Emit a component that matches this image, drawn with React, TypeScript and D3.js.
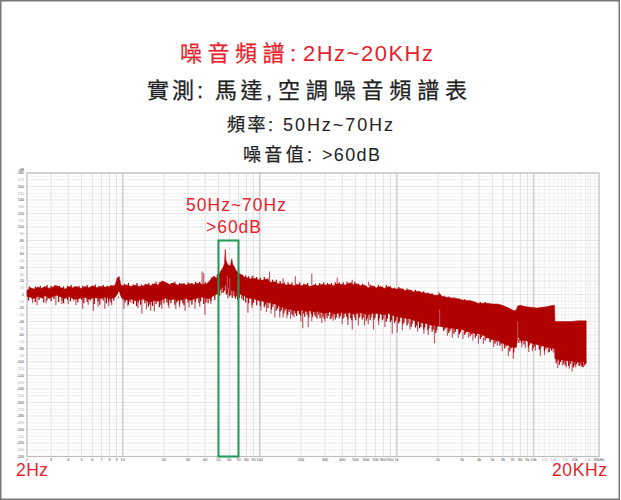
import React from "react";
import * as d3 from "d3";

const width = 621;
const height = 500;

// spectrum body
const freqHz = [
  2, 2.12, 2.25, 2.4, 2.55, 2.7, 2.9, 3.1, 3.3, 3.55, 3.8, 4.05, 4.3, 4.6, 4.95, 5.3, 5.65, 6.05, 6.5, 6.95,
  7.45, 8, 8.5, 8.8, 9.1, 9.4, 9.7, 10, 10.7, 11.5, 12.3, 13.2, 14.2, 15, 16, 17, 18, 19.3, 20.5, 22,
  23.5, 25, 27, 29, 31, 33, 35.5, 38, 41, 43, 46, 48, 50, 52, 54, 55.3, 56, 56.8, 58, 59.5, 61, 62.5,
  63.5, 65, 67, 70, 73, 77, 81, 86, 92, 98, 105, 112, 120, 128, 137, 146, 156, 166, 178, 190, 203,
  217, 232, 248, 265, 283, 303, 323, 345, 368, 395, 420, 450, 480, 510, 545, 580, 620, 660, 710, 760,
  810, 870, 930, 1000, 1070, 1150, 1230, 1320, 1420, 1520, 1630, 1750, 1880, 1980, 2060, 2150, 2300, 2500, 2750, 3000,
  3280, 3600, 3900, 4250, 4600, 5000, 5450, 5900, 6400, 7000, 7300, 7500, 7650, 8000, 8300, 8800, 9500, 10500, 11500, 12500,
  13800, 14200, 14300, 15000, 16000, 17500, 19000, 21000, 23000, 24200,
];
const upperDb = [
  6, 10, 8, 11, 9, 12, 9, 11, 13, 10, 8, 12, 10, 12, 9, 12, 10, 13, 10, 12,
  11, 12, 13, 14, 24, 27, 14, 13, 14, 12, 14, 12, 13, 15, 13, 16, 14, 20, 18, 15,
  17, 14, 16, 14, 16, 15, 17, 15, 16, 20, 27, 24, 28, 35, 40, 46, 67, 50, 46, 43, 42, 53,
  45, 42, 36, 32, 30, 26, 25, 23, 24, 22, 21, 23, 18, 19, 16, 16, 14, 15, 13, 15, 13,
  15, 12, 14, 13, 15, 14, 15, 13, 16, 15, 14, 17, 15, 16, 13, 14, 10, 13, 10, 12,
  9, 12, 9, 8, 9, 6, 7, 4, 5, 3, 2, 1, -1, -1, 1, -3, -4, -5, -6, -8,
  -9, -10, -13, -13, -13, -14, -14, -16, -19, -23, -24, -22, -17, -16, -17, -18, -19, -20, -19, -18,
  -16, -16, -40, -40, -40, -40, -40, -39, -39, -39,
];
const lowerDb = [
  -3, -4, -6, -3, -5, -2, -6, -3, -1, -4, -6, -3, -6, -7, -5, -4, -7, -5, -5, -6,
  -4, -6, -5, -4, 0, 6, -3, -7, -8, -7, -9, -8, -7, -10, -11, -9, -10, -8, -5, -8,
  -7, -9, -8, -6, -9, -7, -5, -4, -6, -6, -2, 0, 2, 8, 12, 14, 14, 12, 10, 8, 7, 6,
  6, 5, 3, 1, 0, -2, -5, -6, -7, -9, -10, -11, -13, -14, -17, -19, -21, -22, -24, -24, -23,
  -25, -24, -26, -25, -27, -28, -26, -29, -28, -27, -28, -27, -29, -28, -27, -29, -30, -28, -28, -29,
  -30, -28, -31, -33, -34, -35, -36, -38, -40, -42, -43, -45, -46, -47, -47, -48, -49, -50, -51, -52,
  -55, -57, -58, -60, -64, -67, -68, -72, -75, -78, -79, -78, -62, -68, -68, -68, -72, -74, -76, -78,
  -80, -80, -95, -96, -97, -98, -99, -100, -100, -101,
];

// jagged edges of the trace, [Hz, dB]
const fringeBelow = [
  [2.05, -9], [2.18, -7], [2.3, -11], [2.45, -8], [2.6, -6], [2.65, -12], [2.8, -9], [3, -10], [3.15, -7], [3.4, -11],
  [3.6, -9], [3.7, -13], [3.95, -8], [4.15, -10], [4.4, -9], [4.7, -12], [5, -8], [5.2, -13], [5.5, -11], [5.8, -9],
  [6.2, -14], [6.6, -10], [6.8, -15], [7.2, -9], [7.6, -13], [7.9, -10], [8.2, -12], [8.6, -9],
  [10.4, -12], [11, -15], [11.3, -11], [12, -14], [12.6, -17], [13, -12], [13.5, -15], [14.5, -13], [15.4, -18], [15.8, -15],
  [16.5, -17], [17.5, -14], [18.5, -19], [19, -15], [20, -13], [21, -12], [21.5, -16], [22.5, -13], [24, -15], [24.8, -12],
  [26, -15], [27.5, -13], [28, -16], [30, -12], [32, -15], [34, -11], [36, -13], [37, -10], [39, -14], [40.5, -12],
  [42, -13], [44, -10], [47, -8], [51, -2], [53, 2], [54.5, 3], [55.5, 6], [57, 0], [58, 2], [60, -3],
  [61.5, -1], [63, -5], [65, -2], [66.5, -6], [68, -3], [69, -8], [71, -5], [74, -6],
  [76, -9], [79, -12], [83, -13], [88, -15], [90, -12], [95, -16], [101, -17], [108, -19], [110, -15], [115, -20],
  [122, -22], [125, -18], [132, -24], [135, -21], [141, -25], [144, -23], [150, -28], [153, -24], [160, -30], [164, -26],
  [172, -29], [175, -31], [183, -28], [186, -32], [195, -29], [199, -31], [208, -28], [213, -33], [222, -30], [228, -34],
  [238, -29], [243, -33], [253, -31], [258, -34], [270, -30], [276, -35], [290, -33], [296, -36],
  [310, -35], [316, -32], [332, -36], [338, -33], [356, -37], [362, -34], [380, -35], [388, -32], [405, -36], [412, -34],
  [432, -33], [440, -37], [462, -35], [470, -38], [495, -34], [503, -38], [530, -35], [538, -33], [560, -37], [570, -34],
  [600, -39], [610, -35], [640, -38], [650, -34], [685, -37], [695, -34], [735, -39], [745, -35], [785, -38], [795, -36],
  [840, -40], [855, -36], [900, -41], [915, -38], [965, -42], [985, -39],
  [1035, -43], [1050, -40], [1110, -44], [1130, -42], [1190, -46], [1210, -43], [1275, -48], [1295, -44], [1370, -49], [1395, -46],
  [1470, -50], [1500, -48], [1575, -52], [1600, -49], [1690, -53], [1720, -50], [1815, -55], [1850, -52], [1930, -57], [1960, -53],
  [2200, -54], [2250, -52], [2400, -57], [2450, -54], [2620, -58], [2680, -55], [2870, -59], [2930, -56],
  [3140, -60], [3200, -57], [3440, -62], [3520, -59], [3750, -64], [3820, -61], [4080, -66], [4170, -63], [4420, -68], [4520, -65],
  [4800, -70], [4900, -67], [5220, -73], [5330, -70], [5670, -76], [5800, -73], [6150, -80], [6300, -77], [6700, -84], [6850, -80],
  [7150, -86], [7800, -72], [8150, -72], [8500, -74], [9150, -78], [9300, -75], [9900, -80], [10200, -77], [11000, -82], [11300, -79],
  [12000, -84], [12300, -81], [13000, -85], [13500, -83],
  [14600, -102], [14800, -99], [15400, -104], [15700, -100], [16600, -103], [17000, -105], [18000, -106], [18500, -103], [19500, -108], [20000, -105],
  [20500, -103], [21700, -106], [22200, -104], [22700, -107], [23600, -105], [24000, -103],
];
const fringeAbove = [
  [2.08, 12], [2.3, 12], [2.5, 13], [2.8, 14], [3, 13], [3.2, 14], [3.45, 13], [3.7, 12], [3.95, 13], [4.2, 14],
  [4.45, 12], [4.8, 13], [5.1, 13], [5.5, 14], [5.9, 12], [6.3, 15], [6.7, 13], [7.2, 14], [7.7, 13], [8.2, 14],
  [10.3, 16], [11, 17], [11.9, 15], [12.7, 17], [13.7, 15], [14.6, 16], [15.5, 17], [16.5, 16], [17.5, 19], [18.6, 17],
  [20, 19], [21, 17], [22.7, 17], [24, 19], [26, 17], [28, 17], [30, 18], [32, 17], [34, 19], [36.5, 19],
  [40, 18], [44.5, 23], [47, 27], [49, 30],
  [75, 29], [79, 28], [83, 27], [88, 27], [95, 26], [101, 25], [108, 26], [115, 24], [124, 22], [132, 22],
  [141, 20], [151, 18], [161, 18], [172, 18], [184, 16], [196, 18], [210, 16], [224, 17], [255, 16], [274, 17],
  [293, 18], [313, 17], [334, 17], [356, 18], [381, 18], [407, 18], [435, 19], [465, 18], [495, 19], [527, 16],
  [562, 16], [600, 13], [640, 15], [685, 13], [735, 14], [785, 12], [840, 14], [900, 12], [965, 10], [1035, 11],
  [1110, 9], [1190, 9], [1275, 7], [1370, 7], [1470, 5], [1575, 5], [1690, 3], [1815, 2], [2220, -2], [2400, -3],
  [2620, -4], [2870, -6], [3140, -7], [3440, -8], [3750, -11], [4080, -11], [4420, -11],
];

// thin pale spikes poking out of the body
const downSpikes = [
  [2.2, -13], [2.37, -16], [2.75, -13], [3.25, -16], [3.6, -14], [4, -14], [4.55, -16], [5.1, -21], [5.6, -15], [6.1, -24],
  [6.6, -18], [7.4, -21], [7.9, -17], [8.3, -16], [10.2, -21], [10.9, -17], [11.7, -13], [12.9, -20], [13.8, -28], [14.9, -22],
  [16, -24], [17, -25], [19.3, -21], [21.7, -20], [24.4, -22], [26, -19], [28.5, -24], [30.5, -19], [33.7, -21], [36.5, -18],
  [39.8, -30], [44, -14], [58.5, -6], [66, -4], [82, -27], [88, -20], [102, -24], [112, -26], [121, -28], [129, -34],
  [140, -34], [148, -34], [158, -35], [168, -36], [178, -34], [200, -40], [206, -50], [226, -49], [240, -40], [263, -36],
  [284, -42], [300, -40], [327, -37], [344, -39], [400, -44], [440, -45], [474, -52], [525, -46], [582, -46], [620, -44],
  [677, -52], [740, -45], [820, -48], [928, -58], [1010, -56], [1100, -53], [1250, -52], [1420, -55], [1580, -58], [1700, -60],
  [1890, -72], [2343, -61], [2550, -64], [2820, -64], [3050, -66], [3340, -64], [3600, -68], [3950, -73], [4300, -73], [4830, -71],
  [5100, -78], [5433, -76], [5900, -84], [6540, -91], [7110, -95], [8200, -78], [8700, -79], [9200, -85], [9800, -84], [10300, -83],
  [11200, -91], [12000, -90], [12800, -86], [13900, -86], [15000, -109], [16200, -105], [17300, -108], [18200, -110], [19100, -114], [20300, -108],
  [21200, -105], [22400, -107], [23100, -108],
];
const upSpikes = [
  [38, 34], [39, 32], [89, 28], [118, 34], [148, 24], [182, 27], [240, 31], [368, 25], [474, 22], [623, 19], [2030, 4],
];
// pale streaks seen inside the body: [Hz, top dB, bottom dB]
const paleStreaks = [
  [9.3, -3, -6],
  [58, 28, 8],
  [60.5, 24, 6],
  [2060, -22, -47],
  [7650, -40, -62],
];

// axes
const yTicks = d3.range(-240, 181, 10);
const yMinor = d3.range(-235, 180, 10);
const decadeHz = [10, 100, 1000, 10000];
const gridHz = [
  3, 4, 5, 6, 7, 8, 9, 20, 30, 40, 50, 60, 70, 80, 90, 200, 300, 400, 500, 600, 700, 800, 900, 2000, 3000, 4000, 5000,
  6000, 7000, 8000, 9000,
];
const fineHz = [11000, 12000, 13000, 14000, 15000, 16000, 17000, 18000, 19000, 20000, 22000, 24000, 25000, 26000, 28000];
const xLabelHz = [
  2, 3, 4, 5, 6, 7, 8, 9, 10, 20, 30, 40, 50, 60, 70, 80, 90, 100, 200, 300, 400, 500, 600, 700, 800, 900, 1000, 2000,
  3000, 4000, 5000, 6000, 7000, 8000, 9000, 10000,
];
const xFaintHz = [12000, 14000, 17000, 20000, 25000];

const bandHz = [50, 70];
const bandTopDb = 80;

const titleRed = "#e81f2d";
const ink = "#222222";
const traceRed = "#b10000";
const palePink = "#c2596a";
const fonts = '"Liberation Sans", "Noto Sans CJK TC", sans-serif';

const x = d3.scaleLog().domain([2, 30000]).range([27, 599]);
const y = d3.scaleLinear().domain([180, -240]).range([173, 456.5]);

const body = d3
  .area<number>()
  .x((d) => x(d))
  .y0((_, i) => y(lowerDb[i]))
  .y1((_, i) => y(upperDb[i]));

const hzLabel = (f: number) => (f >= 1000 ? `${f / 1000}k` : `${f}`);

function edgeAt(f: number, values: number[]) {
  const i = d3.bisectLeft(freqHz, f);
  return values[Math.min(i, values.length - 1)];
}

// one run of title text squeezed to the span it has in the reference
function Run(props: { x: number; y: number; w: number; size: number; fill: string; heavy?: boolean; children: string }) {
  return (
    <text
      x={props.x}
      y={props.y}
      fontSize={props.size}
      fill={props.fill}
      stroke={props.heavy ? props.fill : "none"}
      strokeWidth={props.heavy ? 0.25 : 0}
      textLength={props.w}
      lengthAdjust="spacing"
    >
      {props.children}
    </text>
  );
}

export default function App() {
  return (
    <svg
      width={width}
      height={height}
      style={{ position: "absolute", left: 0, top: 0, background: "#fff" }}
      fontFamily={fonts}
    >
      <rect x={0.75} y={0.75} width={width - 2.5} height={height - 1.5} fill="#fff" stroke="#777" strokeWidth={1.5} />

      <Run x={180} y={61} w={116} size={22} fill={titleRed} heavy>噪音頻譜:</Run>
      <Run x={303} y={61} w={130} size={22} fill={titleRed}>2Hz~20KHz</Run>

      <Run x={147} y={98} w={56} size={22} fill={ink} heavy>實測:</Run>
      <Run x={215} y={98} w={57} size={22} fill={ink} heavy>馬達,</Run>
      <Run x={278} y={98} w={189} size={22} fill={ink} heavy>空調噪音頻譜表</Run>

      <Run x={227} y={131} w={46} size={18} fill={ink} heavy>頻率:</Run>
      <Run x={283} y={131} w={110} size={18} fill={ink}>50Hz~70Hz</Run>

      <Run x={243} y={161} w={69} size={18} fill={ink} heavy>噪音值:</Run>
      <Run x={322} y={161} w={58} size={18} fill={ink}>&gt;60dB</Run>

      {/* grid */}
      {yMinor.map((d) => (
        <line key={d} x1={27} x2={599} y1={y(d)} y2={y(d)} stroke="#f2f2f2" strokeWidth={0.7} />
      ))}
      {yTicks.map((d) => (
        <line key={d} x1={27} x2={599} y1={y(d)} y2={y(d)} stroke={d % 20 === 0 ? "#dedede" : "#e9e9e9"} strokeWidth={0.8} />
      ))}
      {fineHz.map((d) => (
        <line key={d} x1={x(d)} x2={x(d)} y1={173} y2={456.5} stroke="#ececec" strokeWidth={0.8} />
      ))}
      {gridHz.map((d) => (
        <line key={d} x1={x(d)} x2={x(d)} y1={173} y2={456.5} stroke="#e0e0e0" strokeWidth={0.9} />
      ))}
      {decadeHz.map((d) => (
        <line key={d} x1={x(d)} x2={x(d)} y1={173} y2={456.5} stroke="#cfcfcf" strokeWidth={1.6} />
      ))}
      <rect x={27} y={173} width={572} height={283.5} fill="none" stroke="#bdbdbd" strokeWidth={1.2} />

      {/* axis labels */}
      {yTicks.map((d) => (
        <text key={d} x={24} y={y(d) + 1.3} fontSize={3.8} textAnchor="end" fill={d % 20 === 0 ? "#444" : "#aaa"}>
          {d}
        </text>
      ))}
      <text x={24} y={171} fontSize={3.8} textAnchor="end" fill="#444">
        dB
      </text>
      {xLabelHz.map((d) => (
        <text key={d} x={x(d)} y={460.5} fontSize={3.8} textAnchor="middle" fill="#444">
          {hzLabel(d)}
        </text>
      ))}
      {xFaintHz.map((d) => (
        <text key={d} x={x(d)} y={460.5} fontSize={3.8} textAnchor="middle" fill={d === 20000 ? "#444" : "#aaa"}>
          {hzLabel(d)}
        </text>
      ))}
      <text x={x(30000)} y={460.5} fontSize={3.8} textAnchor="middle" fill="#444">
        30kHz
      </text>

      {/* spectrum */}
      {downSpikes.map(([f, d], i) => (
        <line key={i} x1={x(f)} x2={x(f)} y1={y(edgeAt(f, lowerDb))} y2={y(d)} stroke={palePink} strokeWidth={1.2} />
      ))}
      {upSpikes.map(([f, d], i) => (
        <line key={i} x1={x(f)} x2={x(f)} y1={y(edgeAt(f, upperDb))} y2={y(d)} stroke={palePink} strokeWidth={1.2} />
      ))}
      {fringeBelow.map(([f, d], i) => (
        <line key={i} x1={x(f)} x2={x(f)} y1={y(edgeAt(f, lowerDb) + 2)} y2={y(d)} stroke={traceRed} strokeWidth={1.2} />
      ))}
      {fringeAbove.map(([f, d], i) => (
        <line key={i} x1={x(f)} x2={x(f)} y1={y(edgeAt(f, upperDb) - 2)} y2={y(d)} stroke={traceRed} strokeWidth={1.2} />
      ))}
      <path d={body(freqHz) ?? ""} fill={traceRed} stroke={traceRed} strokeWidth={0.5} />
      {paleStreaks.map(([f, top, bottom], i) => (
        <line key={i} x1={x(f)} x2={x(f)} y1={y(top)} y2={y(bottom)} stroke={palePink} strokeWidth={1} />
      ))}

      {/* marked band */}
      <rect
        x={x(bandHz[0])}
        y={y(bandTopDb)}
        width={x(bandHz[1]) - x(bandHz[0])}
        height={y(-240) - y(bandTopDb)}
        fill="none"
        stroke="#1a9a55"
        strokeWidth={2}
      />

      <Run x={186} y={211} w={100} size={17.5} fill={titleRed}>50Hz~70Hz</Run>
      <Run x={206} y={233} w={55} size={17.5} fill={titleRed}>&gt;60dB</Run>
      <Run x={16} y={476} w={32} size={17.5} fill={titleRed}>2Hz</Run>
      <Run x={552} y={476} w={55} size={17.5} fill={titleRed}>20KHz</Run>
    </svg>
  );
}
